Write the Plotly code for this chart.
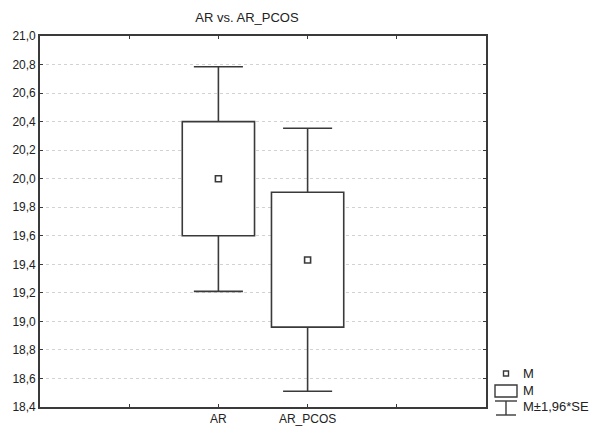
import plotly.graph_objects as go

# ---- data ----
categories = ["AR", "AR_PCOS"]
cat_pos = [2, 3]
means = [20.0, 19.43]
box_low = [19.60, 18.96]       # M - SE
box_high = [20.40, 19.905]     # M + SE
whisk_low = [19.21, 18.51]     # M - 1.96*SE
whisk_high = [20.785, 20.353]  # M + 1.96*SE
y_ticks = [18.4 + 0.2 * i for i in range(14)]

LINE = "#3a3a3a"
FONT = "Liberation Sans, Arial, sans-serif"
BOX_HALF = 0.405
CAP_HALF = 0.275
LW = 1.6

fig = go.Figure()
shapes = []
for i, c in enumerate(categories):
    xc = cat_pos[i]
    common = dict(xref="x", yref="y", layer="between")
    shapes.append(dict(type="line", x0=xc, x1=xc, y0=box_high[i], y1=whisk_high[i],
                       line=dict(color=LINE, width=LW), **common))
    shapes.append(dict(type="line", x0=xc, x1=xc, y0=box_low[i], y1=whisk_low[i],
                       line=dict(color=LINE, width=LW), **common))
    shapes.append(dict(type="line", x0=xc - CAP_HALF, x1=xc + CAP_HALF,
                       y0=whisk_high[i], y1=whisk_high[i], line=dict(color=LINE, width=LW), **common))
    shapes.append(dict(type="line", x0=xc - CAP_HALF, x1=xc + CAP_HALF,
                       y0=whisk_low[i], y1=whisk_low[i], line=dict(color=LINE, width=LW), **common))
    shapes.append(dict(type="rect", x0=xc - BOX_HALF, x1=xc + BOX_HALF,
                       y0=box_low[i], y1=box_high[i], fillcolor="white",
                       line=dict(color=LINE, width=LW), **common))

fig.add_trace(go.Scatter(
    x=cat_pos, y=means, mode="markers",
    marker=dict(symbol="square-open", size=6, color=LINE, line=dict(width=1.6, color=LINE)),
    showlegend=False, hoverinfo="skip", cliponaxis=False))

# ---- custom legend (paper coords) ----
L = 40; R = 486; T = 36; B = 407
def px(x): return (x - L) / (R - L)
def py(y): return (B - y) / (B - T)

shapes.append(dict(type="rect", xref="paper", yref="paper", x0=px(503.5), x1=px(508.5),
                   y0=py(376), y1=py(371), line=dict(color=LINE, width=1.4), fillcolor="white"))
shapes.append(dict(type="rect", xref="paper", yref="paper", x0=px(495), x1=px(517),
                   y0=py(397), y1=py(385), line=dict(color=LINE, width=1.4), fillcolor="white"))
shapes.append(dict(type="line", xref="paper", yref="paper", x0=px(495), x1=px(517),
                   y0=py(401), y1=py(401), line=dict(color=LINE, width=1.4)))
shapes.append(dict(type="line", xref="paper", yref="paper", x0=px(506), x1=px(506),
                   y0=py(401), y1=py(415), line=dict(color=LINE, width=1.4)))
shapes.append(dict(type="line", xref="paper", yref="paper", x0=px(496), x1=px(516),
                   y0=py(415), y1=py(415), line=dict(color=LINE, width=1.4)))

legend_texts = ["M", "M", "M±1,96*SE"]
legend_y = [373, 390, 406]
annotations = []
for t, yy in zip(legend_texts, legend_y):
    annotations.append(dict(text=t, xref="paper", yref="paper", x=px(521), y=py(yy),
                            xanchor="left", yanchor="middle", showarrow=False,
                            font=dict(family=FONT, size=13, color="#222")))

fig.update_layout(
    width=591, height=431,
    margin=dict(l=L, r=591 - R, t=T, b=431 - B, autoexpand=False),
    paper_bgcolor="white", plot_bgcolor="white",
    separators=",.",
    title=dict(text="AR vs. AR_PCOS", x=247 / 591, xanchor="center",
               y=1 - 17 / 431, yanchor="middle",
               font=dict(family=FONT, size=13, color="#222")),
    shapes=shapes, annotations=annotations,
    font=dict(family=FONT, size=12, color="#222"),
)
fig.update_xaxes(
    range=[0, 5], tickvals=[1, 2, 3, 4], ticktext=["", categories[0], categories[1], ""],
    ticks="inside", ticklen=3, tickcolor=LINE, showgrid=False, zeroline=False,
    showline=True, linecolor=LINE, linewidth=1.6, mirror="ticks", automargin=False,
    tickfont=dict(family=FONT, size=12, color="#222"))
fig.update_yaxes(
    range=[18.4, 21.0], tickvals=y_ticks, tickformat=".1f",
    ticks="inside", ticklen=3, tickcolor=LINE, showgrid=True,
    gridcolor="#d2d2d2", griddash="dot", gridwidth=1, zeroline=False,
    showline=True, linecolor=LINE, linewidth=1.6, mirror="ticks", automargin=False,
    tickfont=dict(family=FONT, size=12, color="#222"))

fig.write_html("out.html", config={"displayModeBar": False},
               post_script="document.body.style.margin='0';")
